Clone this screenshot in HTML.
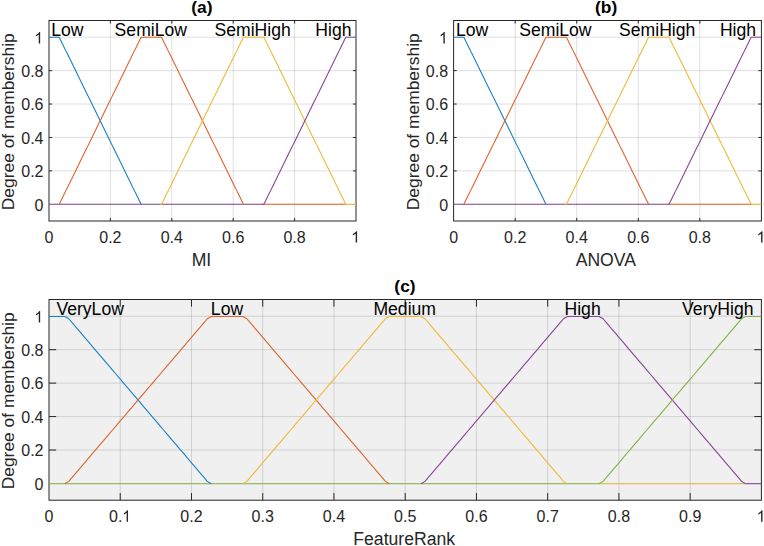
<!DOCTYPE html>
<html><head><meta charset="utf-8"><style>
html,body{margin:0;padding:0;background:#fff;}
body{width:764px;height:546px;overflow:hidden;}
svg{display:block;font-family:"Liberation Sans", sans-serif;fill:#000;}

</style></head><body>
<svg width="764" height="546" viewBox="0 0 764 546">
<rect x="49" y="20.5" width="307" height="200.5" fill="#ffffff"/>
<line x1="110.40" y1="20.5" x2="110.40" y2="221" stroke="#262626" stroke-opacity="0.15" stroke-width="1"/>
<line x1="171.80" y1="20.5" x2="171.80" y2="221" stroke="#262626" stroke-opacity="0.15" stroke-width="1"/>
<line x1="233.20" y1="20.5" x2="233.20" y2="221" stroke="#262626" stroke-opacity="0.15" stroke-width="1"/>
<line x1="294.60" y1="20.5" x2="294.60" y2="221" stroke="#262626" stroke-opacity="0.15" stroke-width="1"/>
<line x1="49" y1="204.29" x2="356" y2="204.29" stroke="#262626" stroke-opacity="0.15" stroke-width="1"/>
<line x1="49" y1="170.88" x2="356" y2="170.88" stroke="#262626" stroke-opacity="0.15" stroke-width="1"/>
<line x1="49" y1="137.46" x2="356" y2="137.46" stroke="#262626" stroke-opacity="0.15" stroke-width="1"/>
<line x1="49" y1="104.04" x2="356" y2="104.04" stroke="#262626" stroke-opacity="0.15" stroke-width="1"/>
<line x1="49" y1="70.63" x2="356" y2="70.63" stroke="#262626" stroke-opacity="0.15" stroke-width="1"/>
<line x1="49" y1="37.21" x2="356" y2="37.21" stroke="#262626" stroke-opacity="0.15" stroke-width="1"/>
<line x1="110.40" y1="221" x2="110.40" y2="217.93" stroke="#262626" stroke-width="1"/>
<line x1="110.40" y1="20.5" x2="110.40" y2="23.57" stroke="#262626" stroke-width="1"/>
<line x1="171.80" y1="221" x2="171.80" y2="217.93" stroke="#262626" stroke-width="1"/>
<line x1="171.80" y1="20.5" x2="171.80" y2="23.57" stroke="#262626" stroke-width="1"/>
<line x1="233.20" y1="221" x2="233.20" y2="217.93" stroke="#262626" stroke-width="1"/>
<line x1="233.20" y1="20.5" x2="233.20" y2="23.57" stroke="#262626" stroke-width="1"/>
<line x1="294.60" y1="221" x2="294.60" y2="217.93" stroke="#262626" stroke-width="1"/>
<line x1="294.60" y1="20.5" x2="294.60" y2="23.57" stroke="#262626" stroke-width="1"/>
<line x1="49" y1="170.88" x2="52.07" y2="170.88" stroke="#262626" stroke-width="1"/>
<line x1="356" y1="170.88" x2="352.93" y2="170.88" stroke="#262626" stroke-width="1"/>
<line x1="49" y1="137.46" x2="52.07" y2="137.46" stroke="#262626" stroke-width="1"/>
<line x1="356" y1="137.46" x2="352.93" y2="137.46" stroke="#262626" stroke-width="1"/>
<line x1="49" y1="104.04" x2="52.07" y2="104.04" stroke="#262626" stroke-width="1"/>
<line x1="356" y1="104.04" x2="352.93" y2="104.04" stroke="#262626" stroke-width="1"/>
<line x1="49" y1="70.63" x2="52.07" y2="70.63" stroke="#262626" stroke-width="1"/>
<line x1="356" y1="70.63" x2="352.93" y2="70.63" stroke="#262626" stroke-width="1"/>
<rect x="49" y="20.5" width="307" height="200.5" fill="none" stroke="#262626" stroke-width="1.0"/>
<line x1="49.00" y1="204.29" x2="262.19" y2="204.29" stroke="#8b4499" stroke-width="1.1"/>
<line x1="262.19" y1="204.29" x2="345.77" y2="204.29" stroke="#dd6430" stroke-width="1.1"/>
<line x1="345.77" y1="204.29" x2="356.00" y2="204.29" stroke="#efb936" stroke-width="1.1"/>
<polyline points="49.00,37.21 50.71,37.21 52.41,37.21 54.12,37.21 55.82,37.21 57.53,37.21 59.23,37.21 60.94,40.69 62.64,44.17 64.35,47.65 66.06,51.13 67.76,54.61 69.47,58.09 71.17,61.57 72.88,65.06 74.58,68.54 76.29,72.02 77.99,75.50 79.70,78.98 81.41,82.46 83.11,85.94 84.82,89.42 86.52,92.90 88.23,96.38 89.93,99.86 91.64,103.35 93.34,106.83 95.05,110.31 96.76,113.79 98.46,117.27 100.17,120.75 101.87,124.23 103.58,127.71 105.28,131.19 106.99,134.67 108.69,138.15 110.40,141.64 112.11,145.12 113.81,148.60 115.52,152.08 117.22,155.56 118.93,159.04 120.63,162.52 122.34,166.00 124.04,169.48 125.75,172.96 127.46,176.44 129.16,179.93 130.87,183.41 132.57,186.89 134.28,190.37 135.98,193.85 137.69,197.33 139.39,200.81 141.10,204.29" fill="none" stroke="#1a80c4" stroke-width="1.1" stroke-linejoin="round" stroke-linecap="butt"/>
<polyline points="59.23,204.29 60.94,200.81 62.64,197.33 64.35,193.85 66.06,190.37 67.76,186.89 69.47,183.41 71.17,179.93 72.88,176.44 74.58,172.96 76.29,169.48 77.99,166.00 79.70,162.52 81.41,159.04 83.11,155.56 84.82,152.08 86.52,148.60 88.23,145.12 89.93,141.64 91.64,138.15 93.34,134.67 95.05,131.19 96.76,127.71 98.46,124.23 100.17,120.75 101.87,117.27 103.58,113.79 105.28,110.31 106.99,106.83 108.69,103.35 110.40,99.86 112.11,96.38 113.81,92.90 115.52,89.42 117.22,85.94 118.93,82.46 120.63,78.98 122.34,75.50 124.04,72.02 125.75,68.54 127.46,65.06 129.16,61.57 130.87,58.09 132.57,54.61 134.28,51.13 135.98,47.65 137.69,44.17 139.39,40.69 141.10,37.21 142.81,37.21 144.51,37.21 146.22,37.21 147.92,37.21 149.63,37.21 151.33,37.21 153.04,37.21 154.74,37.21 156.45,37.21 158.16,37.21 159.86,37.21 161.57,37.21 163.27,40.69 164.98,44.17 166.68,47.65 168.39,51.13 170.09,54.61 171.80,58.09 173.51,61.57 175.21,65.06 176.92,68.54 178.62,72.02 180.33,75.50 182.03,78.98 183.74,82.46 185.44,85.94 187.15,89.42 188.86,92.90 190.56,96.38 192.27,99.86 193.97,103.35 195.68,106.83 197.38,110.31 199.09,113.79 200.79,117.27 202.50,120.75 204.21,124.23 205.91,127.71 207.62,131.19 209.32,134.67 211.03,138.15 212.73,141.64 214.44,145.12 216.14,148.60 217.85,152.08 219.56,155.56 221.26,159.04 222.97,162.52 224.67,166.00 226.38,169.48 228.08,172.96 229.79,176.44 231.49,179.93 233.20,183.41 234.91,186.89 236.61,190.37 238.32,193.85 240.02,197.33 241.73,200.81 243.43,204.29" fill="none" stroke="#dd6430" stroke-width="1.1" stroke-linejoin="round" stroke-linecap="butt"/>
<polyline points="159.86,204.29 161.57,204.29 163.27,200.81 164.98,197.33 166.68,193.85 168.39,190.37 170.09,186.89 171.80,183.41 173.51,179.93 175.21,176.44 176.92,172.96 178.62,169.48 180.33,166.00 182.03,162.52 183.74,159.04 185.44,155.56 187.15,152.08 188.86,148.60 190.56,145.12 192.27,141.64 193.97,138.15 195.68,134.67 197.38,131.19 199.09,127.71 200.79,124.23 202.50,120.75 204.21,117.27 205.91,113.79 207.62,110.31 209.32,106.83 211.03,103.35 212.73,99.86 214.44,96.38 216.14,92.90 217.85,89.42 219.56,85.94 221.26,82.46 222.97,78.98 224.67,75.50 226.38,72.02 228.08,68.54 229.79,65.06 231.49,61.57 233.20,58.09 234.91,54.61 236.61,51.13 238.32,47.65 240.02,44.17 241.73,40.69 243.43,37.21 245.14,37.21 246.84,37.21 248.55,37.21 250.26,37.21 251.96,37.21 253.67,37.21 255.37,37.21 257.08,37.21 258.78,37.21 260.49,37.21 262.19,37.21 263.90,37.21 265.61,40.69 267.31,44.17 269.02,47.65 270.72,51.13 272.43,54.61 274.13,58.09 275.84,61.57 277.54,65.06 279.25,68.54 280.96,72.02 282.66,75.50 284.37,78.98 286.07,82.46 287.78,85.94 289.48,89.42 291.19,92.90 292.89,96.38 294.60,99.86 296.31,103.35 298.01,106.83 299.72,110.31 301.42,113.79 303.13,117.27 304.83,120.75 306.54,124.23 308.24,127.71 309.95,131.19 311.66,134.67 313.36,138.15 315.07,141.64 316.77,145.12 318.48,148.60 320.18,152.08 321.89,155.56 323.59,159.04 325.30,162.52 327.01,166.00 328.71,169.48 330.42,172.96 332.12,176.44 333.83,179.93 335.53,183.41 337.24,186.89 338.94,190.37 340.65,193.85 342.36,197.33 344.06,200.81 345.77,204.29" fill="none" stroke="#efb936" stroke-width="1.1" stroke-linejoin="round" stroke-linecap="butt"/>
<polyline points="262.19,204.29 263.90,204.29 265.61,200.81 267.31,197.33 269.02,193.85 270.72,190.37 272.43,186.89 274.13,183.41 275.84,179.93 277.54,176.44 279.25,172.96 280.96,169.48 282.66,166.00 284.37,162.52 286.07,159.04 287.78,155.56 289.48,152.08 291.19,148.60 292.89,145.12 294.60,141.64 296.31,138.15 298.01,134.67 299.72,131.19 301.42,127.71 303.13,124.23 304.83,120.75 306.54,117.27 308.24,113.79 309.95,110.31 311.66,106.83 313.36,103.35 315.07,99.86 316.77,96.38 318.48,92.90 320.18,89.42 321.89,85.94 323.59,82.46 325.30,78.98 327.01,75.50 328.71,72.02 330.42,68.54 332.12,65.06 333.83,61.57 335.53,58.09 337.24,54.61 338.94,51.13 340.65,47.65 342.36,44.17 344.06,40.69 345.77,37.21 347.47,37.21 349.18,37.21 350.88,37.21 352.59,37.21 354.29,37.21 356.00,37.21" fill="none" stroke="#8b4499" stroke-width="1.1" stroke-linejoin="round" stroke-linecap="butt"/>
<text x="51.3" y="35.5" font-size="17.6" text-anchor="start">Low</text>
<text x="150.8" y="35.5" font-size="17.6" text-anchor="middle">SemiLow</text>
<text x="252.6" y="35.5" font-size="17.6" text-anchor="middle">SemiHigh</text>
<text x="351.5" y="35.5" font-size="17.6" text-anchor="end">High</text>
<text x="49.00" y="242.60" font-size="16" text-anchor="middle" fill="#262626">0</text>
<text x="110.40" y="242.60" font-size="16" text-anchor="middle" fill="#262626">0.2</text>
<text x="171.80" y="242.60" font-size="16" text-anchor="middle" fill="#262626">0.4</text>
<text x="233.20" y="242.60" font-size="16" text-anchor="middle" fill="#262626">0.6</text>
<text x="294.60" y="242.60" font-size="16" text-anchor="middle" fill="#262626">0.8</text>
<path d="M357.112,242.600 L355.705,242.600 L355.705,233.639 Q355.198,234.123 354.393,234.596 Q353.588,235.069 352.877,235.334 L352.877,233.975 Q354.159,233.373 355.006,232.620 Q355.854,231.866 356.205,231.147 L357.112,231.147Z" fill="#262626"/>
<text x="43.50" y="210.59" font-size="16" text-anchor="end" fill="#262626">0</text>
<text x="43.50" y="177.18" font-size="16" text-anchor="end" fill="#262626">0.2</text>
<text x="43.50" y="143.76" font-size="16" text-anchor="end" fill="#262626">0.4</text>
<text x="43.50" y="110.34" font-size="16" text-anchor="end" fill="#262626">0.6</text>
<text x="43.50" y="76.93" font-size="16" text-anchor="end" fill="#262626">0.8</text>
<path d="M40.163,43.508 L38.756,43.508 L38.756,34.547 Q38.248,35.032 37.444,35.504 Q36.639,35.977 35.928,36.243 L35.928,34.883 Q37.209,34.282 38.057,33.528 Q38.905,32.774 39.256,32.055 L40.163,32.055Z" fill="#262626"/>
<text x="201.90" y="13.2" font-size="17.4" font-weight="bold" text-anchor="middle">(a)</text>
<text x="201.50" y="266.0" font-size="17.6" text-anchor="middle" fill="#262626">MI</text>
<text x="0" y="0" font-size="17.4" text-anchor="middle" fill="#262626" transform="translate(14.00,121.75) rotate(-90)">Degree of membership</text>
<rect x="453.6" y="20.5" width="307.79999999999995" height="200.5" fill="#ffffff"/>
<line x1="515.16" y1="20.5" x2="515.16" y2="221" stroke="#262626" stroke-opacity="0.15" stroke-width="1"/>
<line x1="576.72" y1="20.5" x2="576.72" y2="221" stroke="#262626" stroke-opacity="0.15" stroke-width="1"/>
<line x1="638.28" y1="20.5" x2="638.28" y2="221" stroke="#262626" stroke-opacity="0.15" stroke-width="1"/>
<line x1="699.84" y1="20.5" x2="699.84" y2="221" stroke="#262626" stroke-opacity="0.15" stroke-width="1"/>
<line x1="453.6" y1="204.29" x2="761.4" y2="204.29" stroke="#262626" stroke-opacity="0.15" stroke-width="1"/>
<line x1="453.6" y1="170.88" x2="761.4" y2="170.88" stroke="#262626" stroke-opacity="0.15" stroke-width="1"/>
<line x1="453.6" y1="137.46" x2="761.4" y2="137.46" stroke="#262626" stroke-opacity="0.15" stroke-width="1"/>
<line x1="453.6" y1="104.04" x2="761.4" y2="104.04" stroke="#262626" stroke-opacity="0.15" stroke-width="1"/>
<line x1="453.6" y1="70.63" x2="761.4" y2="70.63" stroke="#262626" stroke-opacity="0.15" stroke-width="1"/>
<line x1="453.6" y1="37.21" x2="761.4" y2="37.21" stroke="#262626" stroke-opacity="0.15" stroke-width="1"/>
<line x1="515.16" y1="221" x2="515.16" y2="217.92" stroke="#262626" stroke-width="1"/>
<line x1="515.16" y1="20.5" x2="515.16" y2="23.58" stroke="#262626" stroke-width="1"/>
<line x1="576.72" y1="221" x2="576.72" y2="217.92" stroke="#262626" stroke-width="1"/>
<line x1="576.72" y1="20.5" x2="576.72" y2="23.58" stroke="#262626" stroke-width="1"/>
<line x1="638.28" y1="221" x2="638.28" y2="217.92" stroke="#262626" stroke-width="1"/>
<line x1="638.28" y1="20.5" x2="638.28" y2="23.58" stroke="#262626" stroke-width="1"/>
<line x1="699.84" y1="221" x2="699.84" y2="217.92" stroke="#262626" stroke-width="1"/>
<line x1="699.84" y1="20.5" x2="699.84" y2="23.58" stroke="#262626" stroke-width="1"/>
<line x1="453.6" y1="170.88" x2="456.68" y2="170.88" stroke="#262626" stroke-width="1"/>
<line x1="761.4" y1="170.88" x2="758.32" y2="170.88" stroke="#262626" stroke-width="1"/>
<line x1="453.6" y1="137.46" x2="456.68" y2="137.46" stroke="#262626" stroke-width="1"/>
<line x1="761.4" y1="137.46" x2="758.32" y2="137.46" stroke="#262626" stroke-width="1"/>
<line x1="453.6" y1="104.04" x2="456.68" y2="104.04" stroke="#262626" stroke-width="1"/>
<line x1="761.4" y1="104.04" x2="758.32" y2="104.04" stroke="#262626" stroke-width="1"/>
<line x1="453.6" y1="70.63" x2="456.68" y2="70.63" stroke="#262626" stroke-width="1"/>
<line x1="761.4" y1="70.63" x2="758.32" y2="70.63" stroke="#262626" stroke-width="1"/>
<rect x="453.6" y="20.5" width="307.79999999999995" height="200.5" fill="none" stroke="#262626" stroke-width="1.0"/>
<line x1="453.60" y1="204.29" x2="667.35" y2="204.29" stroke="#8b4499" stroke-width="1.1"/>
<line x1="667.35" y1="204.29" x2="751.14" y2="204.29" stroke="#dd6430" stroke-width="1.1"/>
<line x1="751.14" y1="204.29" x2="761.40" y2="204.29" stroke="#efb936" stroke-width="1.1"/>
<polyline points="453.60,37.21 455.31,37.21 457.02,37.21 458.73,37.21 460.44,37.21 462.15,37.21 463.86,37.21 465.57,40.69 467.28,44.17 468.99,47.65 470.70,51.13 472.41,54.61 474.12,58.09 475.83,61.57 477.54,65.06 479.25,68.54 480.96,72.02 482.67,75.50 484.38,78.98 486.09,82.46 487.80,85.94 489.51,89.42 491.22,92.90 492.93,96.38 494.64,99.86 496.35,103.35 498.06,106.83 499.77,110.31 501.48,113.79 503.19,117.27 504.90,120.75 506.61,124.23 508.32,127.71 510.03,131.19 511.74,134.67 513.45,138.15 515.16,141.64 516.87,145.12 518.58,148.60 520.29,152.08 522.00,155.56 523.71,159.04 525.42,162.52 527.13,166.00 528.84,169.48 530.55,172.96 532.26,176.44 533.97,179.93 535.68,183.41 537.39,186.89 539.10,190.37 540.81,193.85 542.52,197.33 544.23,200.81 545.94,204.29" fill="none" stroke="#1a80c4" stroke-width="1.1" stroke-linejoin="round" stroke-linecap="butt"/>
<polyline points="463.86,204.29 465.57,200.81 467.28,197.33 468.99,193.85 470.70,190.37 472.41,186.89 474.12,183.41 475.83,179.93 477.54,176.44 479.25,172.96 480.96,169.48 482.67,166.00 484.38,162.52 486.09,159.04 487.80,155.56 489.51,152.08 491.22,148.60 492.93,145.12 494.64,141.64 496.35,138.15 498.06,134.67 499.77,131.19 501.48,127.71 503.19,124.23 504.90,120.75 506.61,117.27 508.32,113.79 510.03,110.31 511.74,106.83 513.45,103.35 515.16,99.86 516.87,96.38 518.58,92.90 520.29,89.42 522.00,85.94 523.71,82.46 525.42,78.98 527.13,75.50 528.84,72.02 530.55,68.54 532.26,65.06 533.97,61.57 535.68,58.09 537.39,54.61 539.10,51.13 540.81,47.65 542.52,44.17 544.23,40.69 545.94,37.21 547.65,37.21 549.36,37.21 551.07,37.21 552.78,37.21 554.49,37.21 556.20,37.21 557.91,37.21 559.62,37.21 561.33,37.21 563.04,37.21 564.75,37.21 566.46,37.21 568.17,40.69 569.88,44.17 571.59,47.65 573.30,51.13 575.01,54.61 576.72,58.09 578.43,61.57 580.14,65.06 581.85,68.54 583.56,72.02 585.27,75.50 586.98,78.98 588.69,82.46 590.40,85.94 592.11,89.42 593.82,92.90 595.53,96.38 597.24,99.86 598.95,103.35 600.66,106.83 602.37,110.31 604.08,113.79 605.79,117.27 607.50,120.75 609.21,124.23 610.92,127.71 612.63,131.19 614.34,134.67 616.05,138.15 617.76,141.64 619.47,145.12 621.18,148.60 622.89,152.08 624.60,155.56 626.31,159.04 628.02,162.52 629.73,166.00 631.44,169.48 633.15,172.96 634.86,176.44 636.57,179.93 638.28,183.41 639.99,186.89 641.70,190.37 643.41,193.85 645.12,197.33 646.83,200.81 648.54,204.29" fill="none" stroke="#dd6430" stroke-width="1.1" stroke-linejoin="round" stroke-linecap="butt"/>
<polyline points="564.75,204.29 566.46,204.29 568.17,200.81 569.88,197.33 571.59,193.85 573.30,190.37 575.01,186.89 576.72,183.41 578.43,179.93 580.14,176.44 581.85,172.96 583.56,169.48 585.27,166.00 586.98,162.52 588.69,159.04 590.40,155.56 592.11,152.08 593.82,148.60 595.53,145.12 597.24,141.64 598.95,138.15 600.66,134.67 602.37,131.19 604.08,127.71 605.79,124.23 607.50,120.75 609.21,117.27 610.92,113.79 612.63,110.31 614.34,106.83 616.05,103.35 617.76,99.86 619.47,96.38 621.18,92.90 622.89,89.42 624.60,85.94 626.31,82.46 628.02,78.98 629.73,75.50 631.44,72.02 633.15,68.54 634.86,65.06 636.57,61.57 638.28,58.09 639.99,54.61 641.70,51.13 643.41,47.65 645.12,44.17 646.83,40.69 648.54,37.21 650.25,37.21 651.96,37.21 653.67,37.21 655.38,37.21 657.09,37.21 658.80,37.21 660.51,37.21 662.22,37.21 663.93,37.21 665.64,37.21 667.35,37.21 669.06,37.21 670.77,40.69 672.48,44.17 674.19,47.65 675.90,51.13 677.61,54.61 679.32,58.09 681.03,61.57 682.74,65.06 684.45,68.54 686.16,72.02 687.87,75.50 689.58,78.98 691.29,82.46 693.00,85.94 694.71,89.42 696.42,92.90 698.13,96.38 699.84,99.86 701.55,103.35 703.26,106.83 704.97,110.31 706.68,113.79 708.39,117.27 710.10,120.75 711.81,124.23 713.52,127.71 715.23,131.19 716.94,134.67 718.65,138.15 720.36,141.64 722.07,145.12 723.78,148.60 725.49,152.08 727.20,155.56 728.91,159.04 730.62,162.52 732.33,166.00 734.04,169.48 735.75,172.96 737.46,176.44 739.17,179.93 740.88,183.41 742.59,186.89 744.30,190.37 746.01,193.85 747.72,197.33 749.43,200.81 751.14,204.29" fill="none" stroke="#efb936" stroke-width="1.1" stroke-linejoin="round" stroke-linecap="butt"/>
<polyline points="667.35,204.29 669.06,204.29 670.77,200.81 672.48,197.33 674.19,193.85 675.90,190.37 677.61,186.89 679.32,183.41 681.03,179.93 682.74,176.44 684.45,172.96 686.16,169.48 687.87,166.00 689.58,162.52 691.29,159.04 693.00,155.56 694.71,152.08 696.42,148.60 698.13,145.12 699.84,141.64 701.55,138.15 703.26,134.67 704.97,131.19 706.68,127.71 708.39,124.23 710.10,120.75 711.81,117.27 713.52,113.79 715.23,110.31 716.94,106.83 718.65,103.35 720.36,99.86 722.07,96.38 723.78,92.90 725.49,89.42 727.20,85.94 728.91,82.46 730.62,78.98 732.33,75.50 734.04,72.02 735.75,68.54 737.46,65.06 739.17,61.57 740.88,58.09 742.59,54.61 744.30,51.13 746.01,47.65 747.72,44.17 749.43,40.69 751.14,37.21 752.85,37.21 754.56,37.21 756.27,37.21 757.98,37.21 759.69,37.21 761.40,37.21" fill="none" stroke="#8b4499" stroke-width="1.1" stroke-linejoin="round" stroke-linecap="butt"/>
<text x="455.90000000000003" y="35.5" font-size="17.6" text-anchor="start">Low</text>
<text x="555.4" y="35.5" font-size="17.6" text-anchor="middle">SemiLow</text>
<text x="657.2" y="35.5" font-size="17.6" text-anchor="middle">SemiHigh</text>
<text x="756.1" y="35.5" font-size="17.6" text-anchor="end">High</text>
<text x="453.60" y="242.60" font-size="16" text-anchor="middle" fill="#262626">0</text>
<text x="515.16" y="242.60" font-size="16" text-anchor="middle" fill="#262626">0.2</text>
<text x="576.72" y="242.60" font-size="16" text-anchor="middle" fill="#262626">0.4</text>
<text x="638.28" y="242.60" font-size="16" text-anchor="middle" fill="#262626">0.6</text>
<text x="699.84" y="242.60" font-size="16" text-anchor="middle" fill="#262626">0.8</text>
<path d="M762.512,242.600 L761.105,242.600 L761.105,233.639 Q760.598,234.123 759.793,234.596 Q758.988,235.069 758.277,235.334 L758.277,233.975 Q759.559,233.373 760.406,232.620 Q761.254,231.866 761.605,231.147 L762.512,231.147Z" fill="#262626"/>
<text x="448.10" y="210.59" font-size="16" text-anchor="end" fill="#262626">0</text>
<text x="448.10" y="177.18" font-size="16" text-anchor="end" fill="#262626">0.2</text>
<text x="448.10" y="143.76" font-size="16" text-anchor="end" fill="#262626">0.4</text>
<text x="448.10" y="110.34" font-size="16" text-anchor="end" fill="#262626">0.6</text>
<text x="448.10" y="76.93" font-size="16" text-anchor="end" fill="#262626">0.8</text>
<path d="M444.763,43.508 L443.356,43.508 L443.356,34.547 Q442.848,35.032 442.044,35.504 Q441.239,35.977 440.528,36.243 L440.528,34.883 Q441.809,34.282 442.657,33.528 Q443.505,32.774 443.856,32.055 L444.763,32.055Z" fill="#262626"/>
<text x="606.20" y="13.2" font-size="17.4" font-weight="bold" text-anchor="middle">(b)</text>
<text x="605.80" y="266.0" font-size="17.6" text-anchor="middle" fill="#262626">ANOVA</text>
<text x="0" y="0" font-size="17.4" text-anchor="middle" fill="#262626" transform="translate(418.60,121.75) rotate(-90)">Degree of membership</text>
<rect x="49" y="299.5" width="712.4" height="200.7" fill="#f0f0f0"/>
<line x1="120.24" y1="299.5" x2="120.24" y2="500.2" stroke="#262626" stroke-opacity="0.15" stroke-width="1"/>
<line x1="191.48" y1="299.5" x2="191.48" y2="500.2" stroke="#262626" stroke-opacity="0.15" stroke-width="1"/>
<line x1="262.72" y1="299.5" x2="262.72" y2="500.2" stroke="#262626" stroke-opacity="0.15" stroke-width="1"/>
<line x1="333.96" y1="299.5" x2="333.96" y2="500.2" stroke="#262626" stroke-opacity="0.15" stroke-width="1"/>
<line x1="405.20" y1="299.5" x2="405.20" y2="500.2" stroke="#262626" stroke-opacity="0.15" stroke-width="1"/>
<line x1="476.44" y1="299.5" x2="476.44" y2="500.2" stroke="#262626" stroke-opacity="0.15" stroke-width="1"/>
<line x1="547.68" y1="299.5" x2="547.68" y2="500.2" stroke="#262626" stroke-opacity="0.15" stroke-width="1"/>
<line x1="618.92" y1="299.5" x2="618.92" y2="500.2" stroke="#262626" stroke-opacity="0.15" stroke-width="1"/>
<line x1="690.16" y1="299.5" x2="690.16" y2="500.2" stroke="#262626" stroke-opacity="0.15" stroke-width="1"/>
<line x1="49" y1="483.48" x2="761.4" y2="483.48" stroke="#262626" stroke-opacity="0.15" stroke-width="1"/>
<line x1="49" y1="450.02" x2="761.4" y2="450.02" stroke="#262626" stroke-opacity="0.15" stroke-width="1"/>
<line x1="49" y1="416.57" x2="761.4" y2="416.57" stroke="#262626" stroke-opacity="0.15" stroke-width="1"/>
<line x1="49" y1="383.12" x2="761.4" y2="383.12" stroke="#262626" stroke-opacity="0.15" stroke-width="1"/>
<line x1="49" y1="349.68" x2="761.4" y2="349.68" stroke="#262626" stroke-opacity="0.15" stroke-width="1"/>
<line x1="49" y1="316.23" x2="761.4" y2="316.23" stroke="#262626" stroke-opacity="0.15" stroke-width="1"/>
<line x1="120.24" y1="500.2" x2="120.24" y2="493.08" stroke="#262626" stroke-width="1"/>
<line x1="120.24" y1="299.5" x2="120.24" y2="306.62" stroke="#262626" stroke-width="1"/>
<line x1="191.48" y1="500.2" x2="191.48" y2="493.08" stroke="#262626" stroke-width="1"/>
<line x1="191.48" y1="299.5" x2="191.48" y2="306.62" stroke="#262626" stroke-width="1"/>
<line x1="262.72" y1="500.2" x2="262.72" y2="493.08" stroke="#262626" stroke-width="1"/>
<line x1="262.72" y1="299.5" x2="262.72" y2="306.62" stroke="#262626" stroke-width="1"/>
<line x1="333.96" y1="500.2" x2="333.96" y2="493.08" stroke="#262626" stroke-width="1"/>
<line x1="333.96" y1="299.5" x2="333.96" y2="306.62" stroke="#262626" stroke-width="1"/>
<line x1="405.20" y1="500.2" x2="405.20" y2="493.08" stroke="#262626" stroke-width="1"/>
<line x1="405.20" y1="299.5" x2="405.20" y2="306.62" stroke="#262626" stroke-width="1"/>
<line x1="476.44" y1="500.2" x2="476.44" y2="493.08" stroke="#262626" stroke-width="1"/>
<line x1="476.44" y1="299.5" x2="476.44" y2="306.62" stroke="#262626" stroke-width="1"/>
<line x1="547.68" y1="500.2" x2="547.68" y2="493.08" stroke="#262626" stroke-width="1"/>
<line x1="547.68" y1="299.5" x2="547.68" y2="306.62" stroke="#262626" stroke-width="1"/>
<line x1="618.92" y1="500.2" x2="618.92" y2="493.08" stroke="#262626" stroke-width="1"/>
<line x1="618.92" y1="299.5" x2="618.92" y2="306.62" stroke="#262626" stroke-width="1"/>
<line x1="690.16" y1="500.2" x2="690.16" y2="493.08" stroke="#262626" stroke-width="1"/>
<line x1="690.16" y1="299.5" x2="690.16" y2="306.62" stroke="#262626" stroke-width="1"/>
<line x1="49" y1="450.02" x2="56.12" y2="450.02" stroke="#262626" stroke-width="1"/>
<line x1="761.4" y1="450.02" x2="754.28" y2="450.02" stroke="#262626" stroke-width="1"/>
<line x1="49" y1="416.57" x2="56.12" y2="416.57" stroke="#262626" stroke-width="1"/>
<line x1="761.4" y1="416.57" x2="754.28" y2="416.57" stroke="#262626" stroke-width="1"/>
<line x1="49" y1="383.12" x2="56.12" y2="383.12" stroke="#262626" stroke-width="1"/>
<line x1="761.4" y1="383.12" x2="754.28" y2="383.12" stroke="#262626" stroke-width="1"/>
<line x1="49" y1="349.68" x2="56.12" y2="349.68" stroke="#262626" stroke-width="1"/>
<line x1="761.4" y1="349.68" x2="754.28" y2="349.68" stroke="#262626" stroke-width="1"/>
<rect x="49" y="299.5" width="712.4" height="200.7" fill="none" stroke="#262626" stroke-width="1.0"/>
<line x1="49.00" y1="483.68" x2="599.13" y2="483.68" stroke="#84b445" stroke-width="1.1"/>
<line x1="599.13" y1="483.68" x2="745.57" y2="483.68" stroke="#efb936" stroke-width="1.1"/>
<line x1="745.57" y1="483.68" x2="761.40" y2="483.68" stroke="#8b4499" stroke-width="1.1"/>
<polyline points="49.00,316.43 52.96,316.43 56.92,316.43 60.87,316.43 64.83,316.43 68.79,318.75 72.75,323.39 76.70,328.04 80.66,332.69 84.62,337.33 88.58,341.98 92.54,346.62 96.49,351.27 100.45,355.91 104.41,360.56 108.37,365.21 112.32,369.85 116.28,374.50 120.24,379.14 124.20,383.79 128.16,388.44 132.11,393.08 136.07,397.73 140.03,402.37 143.99,407.02 147.94,411.66 151.90,416.31 155.86,420.96 159.82,425.60 163.78,430.25 167.73,434.89 171.69,439.54 175.65,444.19 179.61,448.83 183.56,453.48 187.52,458.12 191.48,462.77 195.44,467.41 199.40,472.06 203.35,476.71 207.31,481.35 211.27,483.68" fill="none" stroke="#1a80c4" stroke-width="1.1" stroke-linejoin="round" stroke-linecap="butt"/>
<polyline points="64.83,483.68 68.79,481.35 72.75,476.71 76.70,472.06 80.66,467.41 84.62,462.77 88.58,458.12 92.54,453.48 96.49,448.83 100.45,444.19 104.41,439.54 108.37,434.89 112.32,430.25 116.28,425.60 120.24,420.96 124.20,416.31 128.16,411.66 132.11,407.02 136.07,402.37 140.03,397.73 143.99,393.08 147.94,388.44 151.90,383.79 155.86,379.14 159.82,374.50 163.78,369.85 167.73,365.21 171.69,360.56 175.65,355.91 179.61,351.27 183.56,346.62 187.52,341.98 191.48,337.33 195.44,332.69 199.40,328.04 203.35,323.39 207.31,318.75 211.27,316.43 215.23,316.43 219.18,316.43 223.14,316.43 227.10,316.43 231.06,316.43 235.02,316.43 238.97,316.43 242.93,316.43 246.89,318.75 250.85,323.39 254.80,328.04 258.76,332.69 262.72,337.33 266.68,341.98 270.64,346.62 274.59,351.27 278.55,355.91 282.51,360.56 286.47,365.21 290.42,369.85 294.38,374.50 298.34,379.14 302.30,383.79 306.26,388.44 310.21,393.08 314.17,397.73 318.13,402.37 322.09,407.02 326.04,411.66 330.00,416.31 333.96,420.96 337.92,425.60 341.88,430.25 345.83,434.89 349.79,439.54 353.75,444.19 357.71,448.83 361.66,453.48 365.62,458.12 369.58,462.77 373.54,467.41 377.50,472.06 381.45,476.71 385.41,481.35 389.37,483.68" fill="none" stroke="#dd6430" stroke-width="1.1" stroke-linejoin="round" stroke-linecap="butt"/>
<polyline points="242.93,483.68 246.89,481.35 250.85,476.71 254.80,472.06 258.76,467.41 262.72,462.77 266.68,458.12 270.64,453.48 274.59,448.83 278.55,444.19 282.51,439.54 286.47,434.89 290.42,430.25 294.38,425.60 298.34,420.96 302.30,416.31 306.26,411.66 310.21,407.02 314.17,402.37 318.13,397.73 322.09,393.08 326.04,388.44 330.00,383.79 333.96,379.14 337.92,374.50 341.88,369.85 345.83,365.21 349.79,360.56 353.75,355.91 357.71,351.27 361.66,346.62 365.62,341.98 369.58,337.33 373.54,332.69 377.50,328.04 381.45,323.39 385.41,318.75 389.37,316.43 393.33,316.43 397.28,316.43 401.24,316.43 405.20,316.43 409.16,316.43 413.12,316.43 417.07,316.43 421.03,316.43 424.99,318.75 428.95,323.39 432.90,328.04 436.86,332.69 440.82,337.33 444.78,341.98 448.74,346.62 452.69,351.27 456.65,355.91 460.61,360.56 464.57,365.21 468.52,369.85 472.48,374.50 476.44,379.14 480.40,383.79 484.36,388.44 488.31,393.08 492.27,397.73 496.23,402.37 500.19,407.02 504.14,411.66 508.10,416.31 512.06,420.96 516.02,425.60 519.98,430.25 523.93,434.89 527.89,439.54 531.85,444.19 535.81,448.83 539.76,453.48 543.72,458.12 547.68,462.77 551.64,467.41 555.60,472.06 559.55,476.71 563.51,481.35 567.47,483.68" fill="none" stroke="#efb936" stroke-width="1.1" stroke-linejoin="round" stroke-linecap="butt"/>
<polyline points="421.03,483.68 424.99,481.35 428.95,476.71 432.90,472.06 436.86,467.41 440.82,462.77 444.78,458.12 448.74,453.48 452.69,448.83 456.65,444.19 460.61,439.54 464.57,434.89 468.52,430.25 472.48,425.60 476.44,420.96 480.40,416.31 484.36,411.66 488.31,407.02 492.27,402.37 496.23,397.73 500.19,393.08 504.14,388.44 508.10,383.79 512.06,379.14 516.02,374.50 519.98,369.85 523.93,365.21 527.89,360.56 531.85,355.91 535.81,351.27 539.76,346.62 543.72,341.98 547.68,337.33 551.64,332.69 555.60,328.04 559.55,323.39 563.51,318.75 567.47,316.43 571.43,316.43 575.38,316.43 579.34,316.43 583.30,316.43 587.26,316.43 591.22,316.43 595.17,316.43 599.13,316.43 603.09,318.75 607.05,323.39 611.00,328.04 614.96,332.69 618.92,337.33 622.88,341.98 626.84,346.62 630.79,351.27 634.75,355.91 638.71,360.56 642.67,365.21 646.62,369.85 650.58,374.50 654.54,379.14 658.50,383.79 662.46,388.44 666.41,393.08 670.37,397.73 674.33,402.37 678.29,407.02 682.24,411.66 686.20,416.31 690.16,420.96 694.12,425.60 698.08,430.25 702.03,434.89 705.99,439.54 709.95,444.19 713.91,448.83 717.86,453.48 721.82,458.12 725.78,462.77 729.74,467.41 733.70,472.06 737.65,476.71 741.61,481.35 745.57,483.68" fill="none" stroke="#8b4499" stroke-width="1.1" stroke-linejoin="round" stroke-linecap="butt"/>
<polyline points="599.13,483.68 603.09,481.35 607.05,476.71 611.00,472.06 614.96,467.41 618.92,462.77 622.88,458.12 626.84,453.48 630.79,448.83 634.75,444.19 638.71,439.54 642.67,434.89 646.62,430.25 650.58,425.60 654.54,420.96 658.50,416.31 662.46,411.66 666.41,407.02 670.37,402.37 674.33,397.73 678.29,393.08 682.24,388.44 686.20,383.79 690.16,379.14 694.12,374.50 698.08,369.85 702.03,365.21 705.99,360.56 709.95,355.91 713.91,351.27 717.86,346.62 721.82,341.98 725.78,337.33 729.74,332.69 733.70,328.04 737.65,323.39 741.61,318.75 745.57,316.43 749.53,316.43 753.48,316.43 757.44,316.43 761.40,316.43" fill="none" stroke="#84b445" stroke-width="1.1" stroke-linejoin="round" stroke-linecap="butt"/>
<text x="56.4" y="314.5" font-size="17.6" text-anchor="start">VeryLow</text>
<text x="227" y="314.5" font-size="17.6" text-anchor="middle">Low</text>
<text x="404.7" y="314.5" font-size="17.6" text-anchor="middle">Medium</text>
<text x="582.6" y="314.5" font-size="17.6" text-anchor="middle">High</text>
<text x="753.5" y="314.5" font-size="17.6" text-anchor="end">VeryHigh</text>
<text x="49.00" y="521.80" font-size="16" text-anchor="middle" fill="#262626">0</text>
<text x="109.12" y="521.80" font-size="16" fill="#262626">0.</text><path d="M128.024,521.800 L126.617,521.800 L126.617,512.839 Q126.110,513.323 125.305,513.796 Q124.500,514.269 123.789,514.534 L123.789,513.175 Q125.070,512.573 125.918,511.820 Q126.766,511.066 127.117,510.347 L128.024,510.347Z" fill="#262626"/>
<text x="191.48" y="521.80" font-size="16" text-anchor="middle" fill="#262626">0.2</text>
<text x="262.72" y="521.80" font-size="16" text-anchor="middle" fill="#262626">0.3</text>
<text x="333.96" y="521.80" font-size="16" text-anchor="middle" fill="#262626">0.4</text>
<text x="405.20" y="521.80" font-size="16" text-anchor="middle" fill="#262626">0.5</text>
<text x="476.44" y="521.80" font-size="16" text-anchor="middle" fill="#262626">0.6</text>
<text x="547.68" y="521.80" font-size="16" text-anchor="middle" fill="#262626">0.7</text>
<text x="618.92" y="521.80" font-size="16" text-anchor="middle" fill="#262626">0.8</text>
<text x="690.16" y="521.80" font-size="16" text-anchor="middle" fill="#262626">0.9</text>
<path d="M762.512,521.800 L761.105,521.800 L761.105,512.839 Q760.598,513.323 759.793,513.796 Q758.988,514.269 758.277,514.534 L758.277,513.175 Q759.559,512.573 760.406,511.820 Q761.254,511.066 761.605,510.347 L762.512,510.347Z" fill="#262626"/>
<text x="43.50" y="489.78" font-size="16" text-anchor="end" fill="#262626">0</text>
<text x="43.50" y="456.32" font-size="16" text-anchor="end" fill="#262626">0.2</text>
<text x="43.50" y="422.88" font-size="16" text-anchor="end" fill="#262626">0.4</text>
<text x="43.50" y="389.43" font-size="16" text-anchor="end" fill="#262626">0.6</text>
<text x="43.50" y="355.98" font-size="16" text-anchor="end" fill="#262626">0.8</text>
<path d="M40.163,322.525 L38.756,322.525 L38.756,313.564 Q38.248,314.048 37.444,314.521 Q36.639,314.994 35.928,315.259 L35.928,313.900 Q37.209,313.298 38.057,312.545 Q38.905,311.791 39.256,311.072 L40.163,311.072Z" fill="#262626"/>
<text x="405.00" y="292.2" font-size="17.4" font-weight="bold" text-anchor="middle">(c)</text>
<text x="404.20" y="545.2" font-size="17.6" text-anchor="middle" fill="#262626">FeatureRank</text>
<text x="0" y="0" font-size="17.4" text-anchor="middle" fill="#262626" transform="translate(14.00,400.85) rotate(-90)">Degree of membership</text>
</svg>
</body></html>
